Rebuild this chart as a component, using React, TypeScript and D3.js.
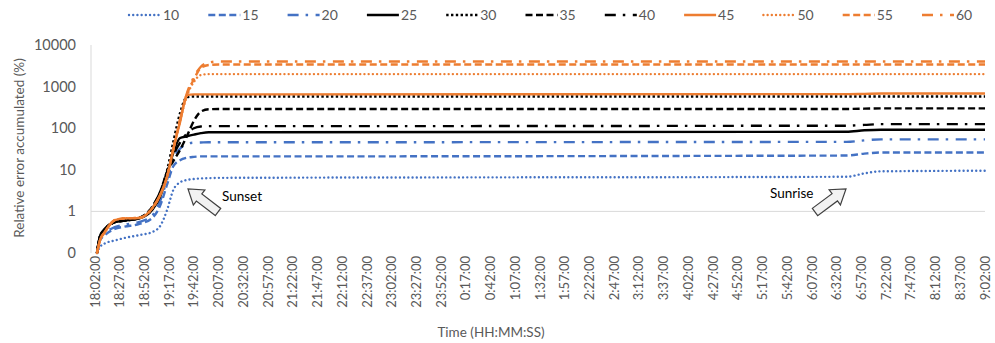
import React from "react";
import * as d3 from "d3";

const W = 995;
const H = 343;

// time in minutes after 18:02:00
const times = [2, 5, 10, 20, 30, 45, 58, 66, 73, 79, 86, 93, 100, 107, 115, 125, 760, 778, 795, 900];

const s10 = [0.1, 0.14, 0.17, 0.2, 0.23, 0.27, 0.32, 0.45, 1.1, 3.2, 5, 5.7, 6, 6.2, 6.3, 6.4, 6.8, 8.2, 9.2, 9.5];
const s15 = [0.1, 0.2, 0.27, 0.38, 0.43, 0.5, 0.7, 1.4, 4.5, 12, 17, 19.5, 20.5, 21, 21, 21, 22, 24.5, 26, 26];
const s20 = [0.1, 0.22, 0.3, 0.42, 0.48, 0.56, 0.8, 1.8, 6, 18, 32, 42, 45, 45.5, 46, 46, 47, 51, 54, 54];
const s25 = [0.1, 0.25, 0.38, 0.55, 0.6, 0.68, 1.1, 2.3, 8, 25, 58, 64, 70, 76, 80, 80, 82, 89, 92, 92];
const s30 = [0.1, 0.25, 0.38, 0.55, 0.6, 0.7, 1.2, 2.8, 10, 45, 230, 560, 580, 580, 580, 580, 580, 580, 580, 580];
const s35 = [0.1, 0.25, 0.38, 0.55, 0.6, 0.7, 1.3, 3, 9, 16, 30, 65, 150, 250, 285, 290, 290, 295, 300, 300];
const s40 = [0.1, 0.25, 0.38, 0.55, 0.6, 0.7, 1.3, 3, 9, 22, 45, 75, 100, 110, 112, 112, 115, 120, 125, 125];
const s45 = [0.1, 0.2, 0.32, 0.62, 0.68, 0.7, 1.2, 2.5, 7, 30, 140, 630, 650, 650, 650, 650, 660, 670, 680, 680];
const s50 = [0.1, 0.2, 0.32, 0.62, 0.68, 0.7, 1.2, 2.5, 7, 30, 150, 600, 1300, 1900, 2000, 2000, 2000, 2000, 2000, 2000];
const s55 = [0.1, 0.2, 0.32, 0.62, 0.68, 0.7, 1.2, 2.5, 7, 30, 160, 650, 1500, 2800, 3300, 3400, 3400, 3400, 3400, 3400];
const s60 = [0.1, 0.2, 0.32, 0.62, 0.68, 0.7, 1.2, 2.5, 7, 30, 160, 700, 1700, 3000, 3800, 4000, 4000, 4000, 4000, 4000];

const seriesNames = ["10", "15", "20", "25", "30", "35", "40", "45", "50", "55", "60"];
const seriesValues = [s10, s15, s20, s25, s30, s35, s40, s45, s50, s55, s60];

const yTickValues = [0.1, 1, 10, 100, 1000, 10000];
const yTickLabels = ["0", "1", "10", "100", "1000", "10000"];

const BLUE = "#4472C4";
const ORANGE = "#ED7D31";
const BLACK = "#000000";

const DOT = "0.01 4.2";
const SQDOT = "2.4 2.4";
const DASH = "7 3.5";
const DASHDOT = "11 7 2.5 7.5";

const styles = [
  { color: BLUE, dash: DOT, cap: "round" },
  { color: BLUE, dash: DASH, cap: "butt" },
  { color: BLUE, dash: DASHDOT, cap: "butt" },
  { color: BLACK, dash: "", cap: "butt" },
  { color: BLACK, dash: SQDOT, cap: "butt" },
  { color: BLACK, dash: DASH, cap: "butt" },
  { color: BLACK, dash: DASHDOT, cap: "butt" },
  { color: ORANGE, dash: "", cap: "butt" },
  { color: ORANGE, dash: DOT, cap: "round" },
  { color: ORANGE, dash: DASH, cap: "butt" },
  { color: ORANGE, dash: DASHDOT, cap: "butt" },
];

function fmtTime(min: number) {
  const total = 18 * 60 + 2 + min;
  const h = Math.floor(total / 60) % 24;
  const m = total % 60;
  return `${h}:${String(m).padStart(2, "0")}:00`;
}

const xTickMinutes = d3.range(0, 901, 25);

function Arrow({ x1, y1, x2, y2 }: { x1: number; y1: number; x2: number; y2: number }) {
  const L = Math.hypot(x2 - x1, y2 - y1);
  const ang = (Math.atan2(y2 - y1, x2 - x1) * 180) / Math.PI;
  const sw = 4.5, hw = 9.5, hl = 14;
  const pts = [
    [0, -sw], [L - hl, -sw], [L - hl, -hw], [L, 0], [L - hl, hw], [L - hl, sw], [0, sw],
  ].map((p) => p.join(",")).join(" ");
  return (
    <polygon
      points={pts}
      transform={`translate(${x1},${y1}) rotate(${ang})`}
      fill="#f2f2f2"
      stroke="#404040"
      strokeWidth={1.2}
      strokeLinejoin="miter"
    />
  );
}

export default function App() {
  const x = d3.scaleLinear().domain([0, 900]).range([95, 985]);
  const y = d3.scaleLog().domain([0.1, 10000]).range([253, 45]);
  const line = d3
    .line<[number, number]>()
    .x((d) => x(d[0]))
    .y((d) => y(d[1]))
    .curve(d3.curveMonotoneX);

  const font = "Lato, 'Liberation Sans', sans-serif";
  const gray = "#595959";

  return (
    <svg width={W} height={H} style={{ position: "absolute", left: 0, top: 0, background: "#fff" }} fontFamily={font}>
      <rect width={W} height={H} fill="#fff" />
      {/* y axis line */}
      <line x1={91} x2={91} y1={y(10000)} y2={y(0.1)} stroke="#d9d9d9" strokeWidth={1} />
      {/* gridline at 1 */}
      <line x1={91} x2={985} y1={y(1)} y2={y(1)} stroke="#d9d9d9" strokeWidth={1} />

      {/* y ticks */}
      {yTickValues.map((v, i) => (
        <text key={v} x={76} y={y(v)} dy="0.35em" textAnchor="end" fontSize={14.5} fill={gray}>
          {yTickLabels[i]}
        </text>
      ))}
      <text
        transform={`translate(19,${(45 + 233) / 2 + 9}) rotate(-90)`}
        textAnchor="middle"
        dy="0.35em"
        fontSize={13.5}
        fill={gray}
      >
        Relative error accumulated (%)
      </text>

      {/* x ticks */}
      {xTickMinutes.map((m) => (
        <text
          key={m}
          transform={`translate(${x(m)},256) rotate(-90)`}
          textAnchor="end"
          dy="0.35em"
          fontSize={13}
          fill={gray}
        >
          {fmtTime(m)}
        </text>
      ))}
      <text x={491} y={337} textAnchor="middle" fontSize={13.5} fill={gray}>
        Time (HH:MM:SS)
      </text>

      {/* series */}
      {seriesValues.map((vals, i) => {
        const pts = times.map((t, j) => [t, vals[j]] as [number, number]);
        return (
          <path
            key={seriesNames[i]}
            d={line(pts) || ""}
            fill="none"
            stroke={styles[i].color}
            strokeWidth={2.4}
            strokeDasharray={styles[i].dash || undefined}
            strokeLinecap={styles[i].cap as any}
          />
        );
      })}

      {/* annotations */}
      <Arrow x1={218} y1={212} x2={188} y2={189} />
      <text x={222} y={196} dy="0.35em" fontSize={13.5} fill="#000">Sunset</text>
      <Arrow x1={815} y1={212} x2={846} y2={189} />
      <text x={770} y={193} dy="0.35em" fontSize={13.5} fill="#000">Sunrise</text>

      {/* legend */}
      {seriesNames.map((n, i) => {
        const lx = 129 + i * 79.3;
        return (
          <g key={n}>
            <line
              x1={lx}
              x2={lx + 32}
              y1={15}
              y2={15}
              stroke={styles[i].color}
              strokeWidth={2.4}
              strokeDasharray={styles[i].dash || undefined}
              strokeLinecap={styles[i].cap as any}
            />
            <text x={lx + 34} y={15} dy="0.35em" fontSize={14} fill={gray}>
              {n}
            </text>
          </g>
        );
      })}
    </svg>
  );
}
